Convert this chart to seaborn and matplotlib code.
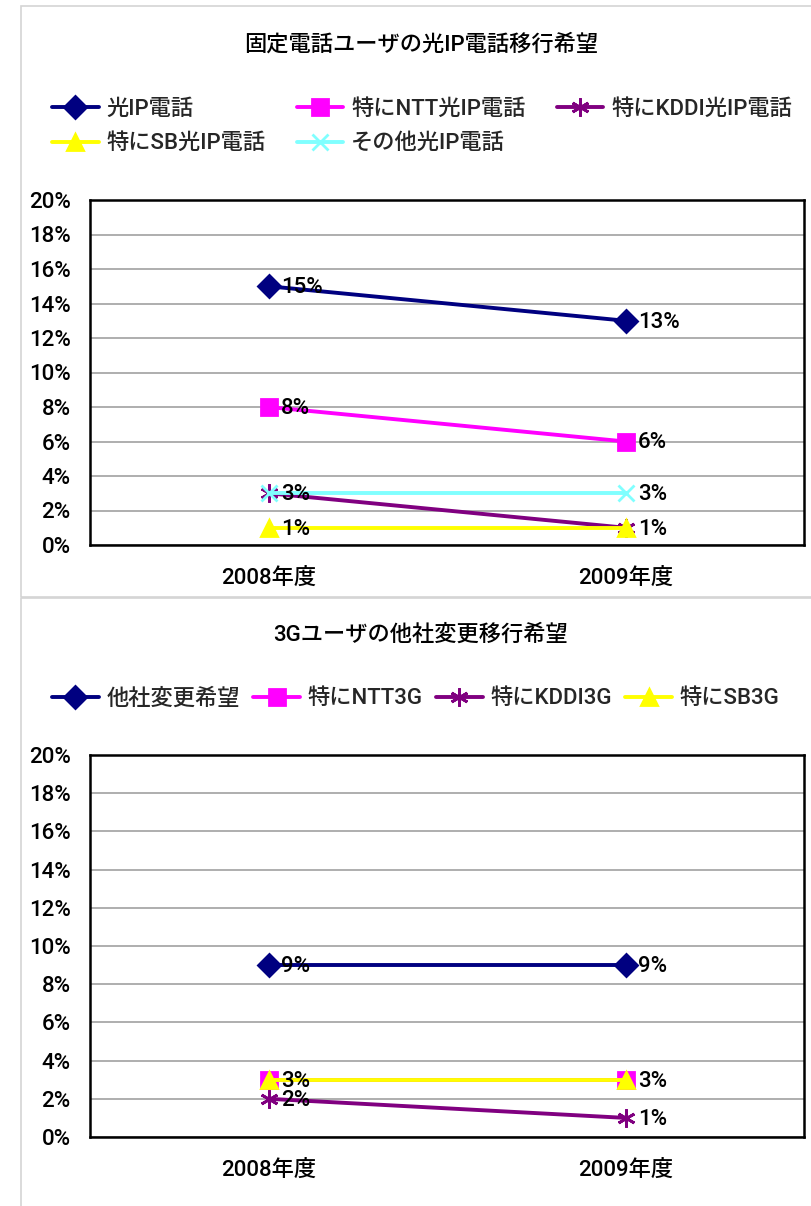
import pandas as pd
import matplotlib.pyplot as plt
import seaborn as sns
from matplotlib.patches import Rectangle
from matplotlib.ticker import FuncFormatter, MultipleLocator

# 年度
years = ["2008年度", "2009年度"]

# 上のグラフ：固定電話ユーザの光IP電話移行希望 (%)
title_top = "固定電話ユーザの光IP電話移行希望"
names_top = ["光IP電話", "特にNTT光IP電話", "特にKDDI光IP電話", "特にSB光IP電話", "その他光IP電話"]
hikari_ip = [15, 13]
ntt_ip = [8, 6]
kddi_ip = [3, 1]
sb_ip = [1, 1]
other_ip = [3, 3]

# 下のグラフ：3Gユーザの他社変更移行希望 (%)
title_bottom = "3Gユーザの他社変更移行希望"
names_bottom = ["他社変更希望", "特にNTT3G", "特にKDDI3G", "特にSB3G"]
change_3g = [9, 9]
ntt_3g = [3, 3]
kddi_3g = [2, 1]
sb_3g = [3, 3]

colors = ["#000080", "#FF00FF", "#800080", "#FFFF00", "#80FFFF"]
markers = ["D", "s", (6, 2, 0), "^", "x"]
msizes = [11, 11, 13, 12, 11]

sns.set_theme(style="white")
plt.rcParams["font.family"] = ["Roboto", "Noto Sans CJK JP", "DejaVu Sans"]
plt.rcParams["font.weight"] = "medium"

W, H = 811, 1206
fig = plt.figure(figsize=(W / 100, H / 100), dpi=100)

# パネルの枠
fig.add_artist(Rectangle((21 / W, 1 - 597 / H), 1, 591 / H, transform=fig.transFigure,
                         fill=False, ec="#D4D4D4", lw=1.2))
fig.add_artist(Rectangle((21 / W, -0.01), 1, 1 - 598 / H + 0.01, transform=fig.transFigure,
                         fill=False, ec="#D4D4D4", lw=1.2))


def draw(ax, names, series):
    done = set()
    for i, (name, vals) in enumerate(zip(names, series)):
        c = colors[i]
        sns.lineplot(x=years, y=vals, ax=ax, color=c, marker=markers[i], ms=msizes[i],
                     mec=c, mew=2, lw=2.8, label=name, zorder=3 + i)
        for y, v in zip(years, vals):
            # 同じ位置に重なるラベルは一つだけ
            if (y, v) in done:
                continue
            done.add((y, v))
            ax.annotate(f"{v}%", (y, v), xytext=(9, -1), textcoords="offset points",
                        va="center", ha="left", fontsize=16, color="black", zorder=20)
    ax.set_xlim(-0.5, 1.5)
    ax.set_ylim(0, 20)
    ax.yaxis.set_major_locator(MultipleLocator(2))
    ax.yaxis.set_major_formatter(FuncFormatter(lambda v, p: f"{v:.0f}%"))
    ax.yaxis.grid(True, color="#A8A8A8", lw=1.3)
    ax.set_axisbelow(True)
    ax.set_xticks([0.5], minor=True)
    ax.tick_params(axis="x", which="major", length=0, pad=16, labelsize=16)
    ax.tick_params(axis="x", which="minor", length=5, direction="in", color="#888888", width=1)
    ax.tick_params(axis="y", length=0, pad=14, labelsize=16)
    for lbl in ax.get_xticklabels() + ax.get_yticklabels():
        lbl.set_color("black")
    for s in ax.spines.values():
        s.set_visible(True)
        s.set_color("black")
        s.set_linewidth(1.8)
    ax.set_xlabel("")
    ax.set_ylabel("")


# 上
ax1 = fig.add_axes([90 / W, 1 - 545 / H, 714 / W, 345 / H])
draw(ax1, names_top, [hikari_ip, ntt_ip, kddi_ip, sb_ip, other_ip])
h, l = ax1.get_legend_handles_labels()
order = [0, 3, 1, 4, 2]
ax1.legend([h[k] for k in order], [l[k] for k in order], ncol=3, loc="upper left",
           bbox_to_anchor=(52 / W, 1 - 99 / H), bbox_transform=fig.transFigure,
           frameon=False, fontsize=16, handlelength=2.1, handletextpad=0.35,
           columnspacing=1.4, labelspacing=0.6, borderpad=0, borderaxespad=0)
fig.text(421 / W, 1 - 45 / H, title_top, ha="center", va="center", fontsize=16, color="black")

# 下
ax2 = fig.add_axes([90 / W, 1 - 1137 / H, 714 / W, 382 / H])
draw(ax2, names_bottom, [change_3g, ntt_3g, kddi_3g, sb_3g])
ax2.legend(ncol=4, loc="upper left",
           bbox_to_anchor=(52 / W, 1 - 688 / H), bbox_transform=fig.transFigure,
           frameon=False, fontsize=16, handlelength=2.1, handletextpad=0.35,
           columnspacing=0.6, borderpad=0, borderaxespad=0)
fig.text(421 / W, 1 - 635 / H, title_bottom, ha="center", va="center", fontsize=16, color="black")

fig.savefig("out.png", dpi=100, facecolor="white")
